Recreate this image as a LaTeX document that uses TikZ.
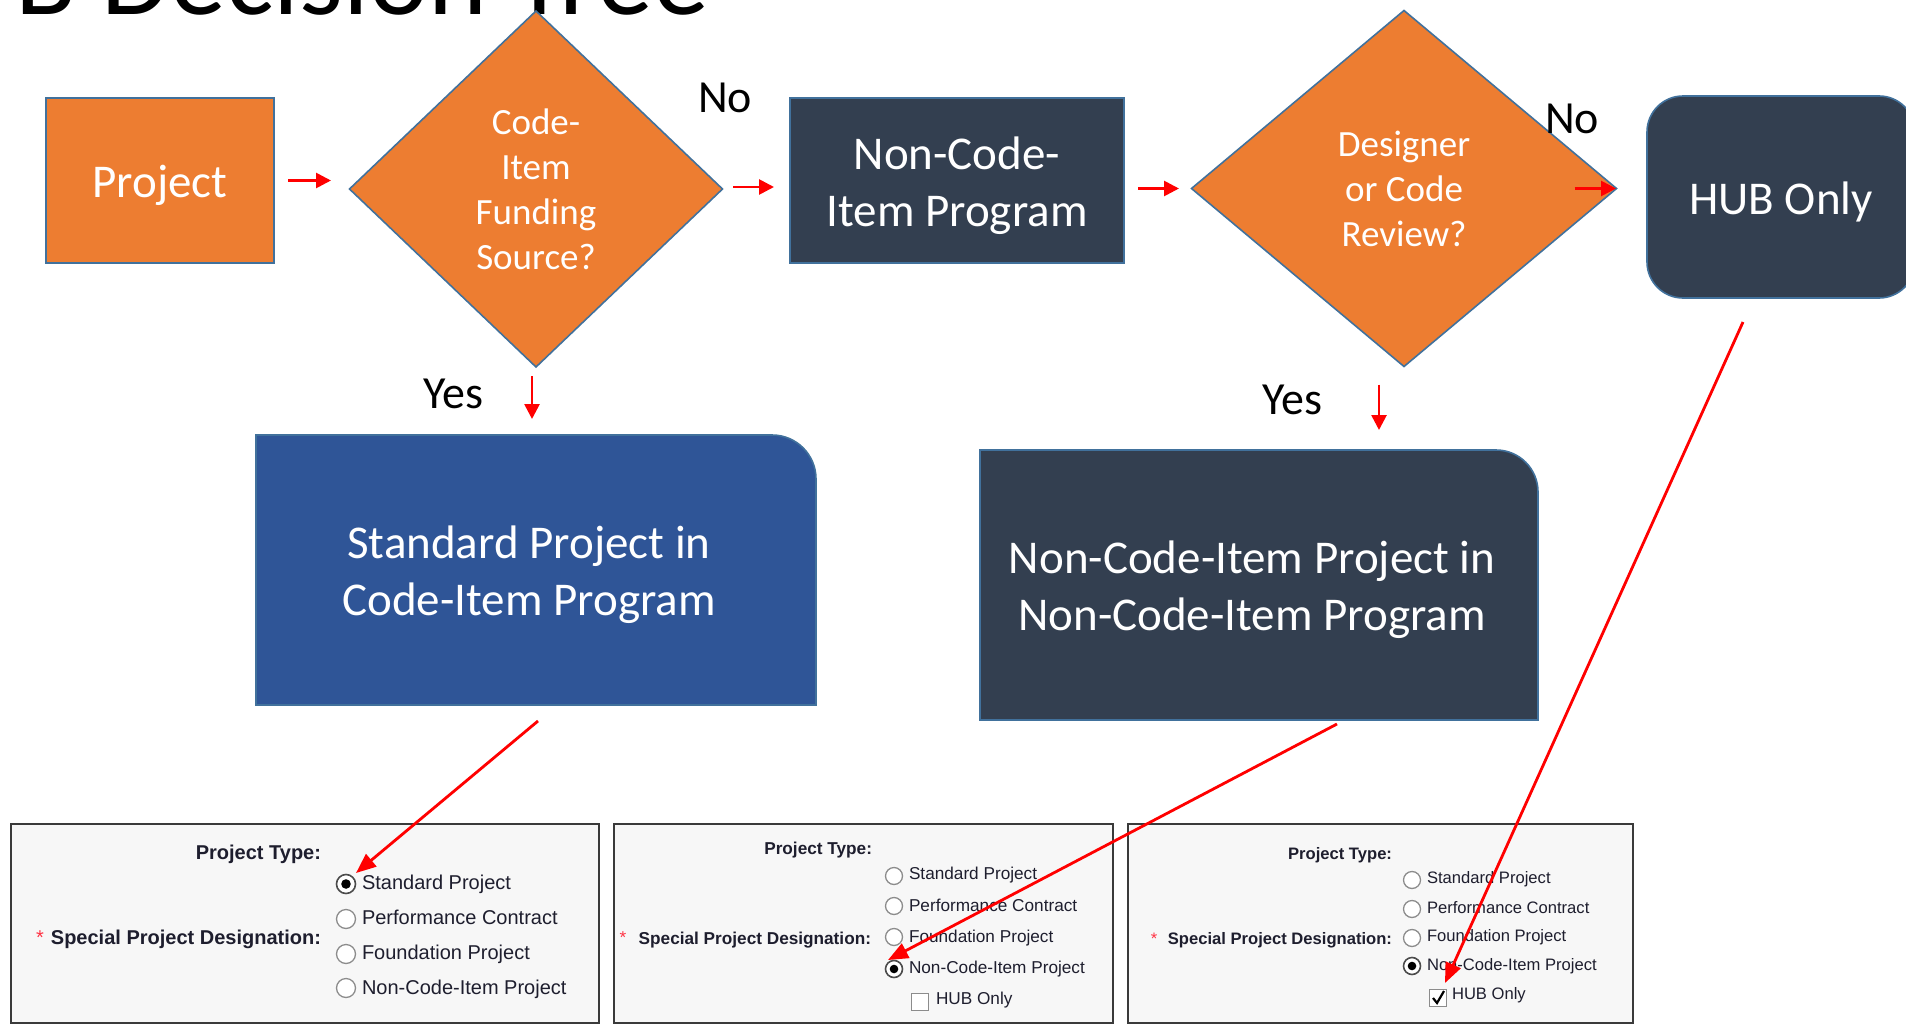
\documentclass[tikz,border=0pt]{standalone}
\usepackage{fontspec}
\setmainfont{Carlito}
\newfontfamily\arialf{Liberation Sans}
\usetikzlibrary{shapes.geometric,arrows.meta,backgrounds}

\definecolor{orng}{HTML}{ED7D31}
\definecolor{edgeblue}{HTML}{41719C}
\definecolor{darkbox}{HTML}{333F50}
\definecolor{bluebox}{HTML}{2F5597}
\definecolor{panelbg}{HTML}{F7F7F7}
\definecolor{paneledge}{HTML}{3A3A3A}
\definecolor{formtext}{HTML}{1E1E2E}
\definecolor{radioedge}{HTML}{8C8C8C}
\definecolor{starred}{HTML}{FF3344}

\begin{document}
\begin{tikzpicture}[x=1pt,y=1pt,
  every node/.style={inner sep=0pt, outer sep=0pt},
  bigtxt/.style={font=\fontsize{47}{57}\selectfont, text=white, align=center},
  dtxt/.style={font=\fontsize{37}{45}\selectfont, text=white, align=center},
  rectbox/.style={rectangle, draw=edgeblue, line width=1.6pt},
  dia/.style={diamond, fill=orng, draw=edgeblue, line width=1.6pt, dtxt},
  lbl/.style={font=\fontsize{46}{52}\selectfont, text=black, anchor=base},
  arr/.style={draw=red, line width=2.7pt, -{Triangle[length=15pt,width=15pt]}},
  longarr/.style={draw=red, line width=2.8pt, -{Triangle[length=20pt,width=16pt]}},
  panel/.style={rectangle, draw=paneledge, fill=panelbg, line width=2pt, anchor=north west},
  radio/.style={circle, draw=radioedge, fill=white, line width=1.3pt, minimum size=#1},
  selradio/.style={circle, draw=gray!60!black, fill=white, line width=1.6pt, minimum size=#1},
  chk/.style={rectangle, draw=radioedge, fill=white, line width=1.3pt, minimum size=#1},
  fa/.style={font=\arialf\fontsize{20}{24}\selectfont, text=formtext},
  fab/.style={font=\arialf\bfseries\fontsize{20}{24}\selectfont, text=formtext},
  fb/.style={font=\arialf\fontsize{17.2}{20}\selectfont, text=formtext},
  fbb/.style={font=\arialf\bfseries\fontsize{17.2}{20}\selectfont, text=formtext},
  fc/.style={font=\arialf\fontsize{16.6}{20}\selectfont, text=formtext},
  fcb/.style={font=\arialf\bfseries\fontsize{16.6}{20}\selectfont, text=formtext}
]
\useasboundingbox (0,0) rectangle (1906,-1025);
\clip (0,0) rectangle (1906,-1025);

% title
\node[anchor=base east, font=\fontsize{112}{120}\selectfont, text=black] (title) at (709,-15) {B Decision Tree};

% top row
\node[rectbox, fill=orng, minimum width=228pt, minimum height=165pt] (proj) at (160,-180.5) {};
\node[bigtxt] (projtxt) at ([yshift=-5pt]proj.center) {Project};
\node[dia, minimum width=373pt, minimum height=356pt] (d1) at (536,-189) {Code-\\Item\\Funding\\Source?};
\node[rectbox, fill=darkbox, minimum width=334pt, minimum height=165pt] (ncp) at (957,-180.5) {};
\node[bigtxt] (ncptxt) at ([yshift=-5pt]ncp.center) {Non-Code-\\Item Program};
\node[dia, minimum width=425pt, minimum height=356pt] (d2) at (1404,-188.5) {Designer\\or Code\\Review?};
\node[rectbox, fill=darkbox, rounded corners=36pt, minimum width=268pt, minimum height=202pt] (hub) at (1781,-197) {};
\node[bigtxt] (hubtxt) at ([yshift=-5pt]hub.center) {HUB Only};

% second row
\node[minimum width=560pt, minimum height=270pt] (std) at (536,-570) {};
\node[minimum width=558pt, minimum height=270pt] (ncproj) at (1259,-585) {};
\path[fill=bluebox, draw=edgeblue, line width=1.6pt] (std.south west) -- (std.north west) -- ([xshift=-44pt]std.north east) arc[start angle=90,end angle=0,radius=44pt] -- (std.south east) -- cycle;
\path[fill=darkbox, draw=edgeblue, line width=1.6pt] (ncproj.south west) -- (ncproj.north west) -- ([xshift=-42pt]ncproj.north east) arc[start angle=90,end angle=0,radius=42pt] -- (ncproj.south east) -- cycle;
\node[bigtxt] (stdtxt) at ([xshift=-7pt,yshift=-5pt]std.center) {Standard Project in\\Code-Item Program};
\node[bigtxt] (ncprojtxt) at ([xshift=-7pt,yshift=-5pt]ncproj.center) {Non-Code-Item Project in\\Non-Code-Item Program};

% labels
\node[lbl] (no1) at (725,-112) {No};
\node[lbl] (no2) at (1572,-133) {No};
\node[lbl] (yes1) at (453,-408) {Yes};
\node[lbl] (yes2) at (1292,-414) {Yes};

% short arrows
\draw[arr, shorten <=14pt, shorten >=18.5pt] (proj.east) -- (proj.east -| d1.west);
\draw[arr, shorten <=10.5pt, shorten >=16pt] ([yshift=2pt]d1.east) -- ([yshift=2pt]d1.east -| ncp.west);
\draw[arr, shorten <=14pt, shorten >=12.5pt] (d2.west -| ncp.east) -- (d2.west);
\draw[arr, shorten >=31pt] ([xshift=-42pt]d2.east) -- (d2.east -| hub.west);
\draw[arr, shorten <=9pt, shorten >=16pt] ([xshift=-4pt]d1.south) -- ([xshift=-4pt]d1.south |- std.north);
\draw[arr, shorten <=18pt, shorten >=20pt] ([xshift=-25pt]d2.south) -- ([xshift=-25pt]d2.south |- ncproj.north);

% panel 1
\node[panel, minimum width=588pt, minimum height=199pt] (p1) at (11,-824) {};
\node[fab, anchor=base east] (pt1) at (321,-859) {Project Type:};
\node[fab, anchor=base east] (sd1) at (321,-944) {Special Project Designation:};
\node[fa, anchor=base, text=starred] (st1) at (40,-944) {*};
\node[selradio=19pt] (r1a) at (346,-884) {};
\fill[black] (r1a) circle (4.8pt);
\node[radio=19pt] (r1b) at (346,-919) {};
\node[radio=19pt] (r1c) at (346,-954) {};
\node[radio=19pt] (r1d) at (346,-988) {};
\node[fa, anchor=base west] (l1a) at (362,-889) {Standard Project};
\node[fa, anchor=base west] (l1b) at (362,-924) {Performance Contract};
\node[fa, anchor=base west] (l1c) at (362,-959) {Foundation Project};
\node[fa, anchor=base west] (l1d) at (362,-994) {Non-Code-Item Project};

% panel 2
\node[panel, minimum width=499pt, minimum height=199pt] (p2) at (614,-824) {};
\node[fbb, anchor=base east] (pt2) at (872,-854) {Project Type:};
\node[fbb, anchor=base east] (sd2) at (871,-944) {Special Project Designation:};
\node[fb, anchor=base, text=starred] (st2) at (623,-943) {*};
\node[radio=17pt] (r2a) at (894,-876) {};
\node[radio=17pt] (r2b) at (894,-906) {};
\node[radio=17pt] (r2c) at (894,-937) {};
\node[selradio=17pt] (r2d) at (894,-969) {};
\fill[black] (r2d) circle (4.3pt);
\node[fb, anchor=base west] (l2a) at (909,-879) {Standard Project};
\node[fb, anchor=base west] (l2b) at (909,-911) {Performance Contract};
\node[fb, anchor=base west] (l2c) at (909,-942) {Foundation Project};
\node[fb, anchor=base west] (l2d) at (909,-973) {Non-Code-Item Project};
\node[chk=17pt] (c2) at (920,-1002) {};
\node[fb, anchor=base west] (h2) at (936,-1004) {HUB Only};

% panel 3
\node[panel, minimum width=505pt, minimum height=199pt] (p3) at (1128,-824) {};
\node[fcb, anchor=base east] (pt3) at (1392,-859) {Project Type:};
\node[fcb, anchor=base east] (sd3) at (1392,-944) {Special Project Designation:};
\node[fc, anchor=base, text=starred] (st3) at (1154,-944) {*};
\node[radio=17pt] (r3a) at (1412,-880) {};
\node[radio=17pt] (r3b) at (1412,-909) {};
\node[radio=17pt] (r3c) at (1412,-938) {};
\node[selradio=17pt] (r3d) at (1412,-966) {};
\fill[black] (r3d) circle (4.3pt);
\node[fc, anchor=base west] (l3a) at (1427,-883) {Standard Project};
\node[fc, anchor=base west] (l3b) at (1427,-913) {Performance Contract};
\node[fc, anchor=base west] (l3c) at (1427,-941) {Foundation Project};
\node[fc, anchor=base west] (l3d) at (1427,-970) {Non-Code-Item Project};
\node[chk=17pt] (c3) at (1438,-998) {};
\draw[black, line width=2.2pt] ([xshift=-5pt,yshift=0pt]c3.center) -- ([xshift=-1pt,yshift=-5pt]c3.center) -- ([xshift=6pt,yshift=7pt]c3.center);
\node[fc, anchor=base west] (h3) at (1452,-999) {HUB Only};

% long arrows
\draw[longarr] ([xshift=2pt,yshift=-16pt]std.south) -- ([xshift=10pt,yshift=11pt]r1a.center);
\draw[longarr] ([xshift=78pt,yshift=-4pt]ncproj.south) -- ([xshift=-6pt,yshift=9pt]r2d.center);
\draw[longarr] ([xshift=-38pt,yshift=-24pt]hub.south) -- ([xshift=7pt,yshift=15pt]c3.center);
\end{tikzpicture}
\end{document}
